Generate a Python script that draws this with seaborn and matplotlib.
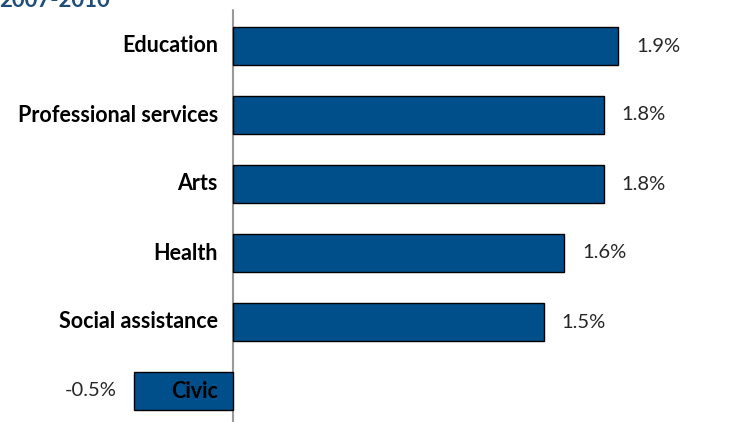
import seaborn as sns
import pandas as pd
import matplotlib.pyplot as plt

# Data
categories = ['Education', 'Professional services', 'Arts', 'Health', 'Social assistance', 'Civic']
growth = [1.86, 1.79, 1.79, 1.60, 1.50, -0.48]
value_labels = ['1.9%', '1.8%', '1.8%', '1.6%', '1.5%', '-0.5%']
title = '2007-2010'

df = pd.DataFrame({'Sector': categories, 'Growth': growth})

sns.set_style('white')
plt.rcParams['font.family'] = ['Lato', 'DejaVu Sans']

fig = plt.figure(figsize=(7.34, 4.22), dpi=100)
ax = fig.add_axes([0, 0, 1, 1])

sns.barplot(data=df, x='Growth', y='Sector', orient='h', color='#004F8A',
            saturation=1, edgecolor='black', linewidth=1, width=0.55, ax=ax)

# pixel scale ~207 px per percentage point, zero line at x=233
ax.set_xlim(-233 / 207, (734 - 233) / 207)
ax.set_ylim((422 - 46) / 69, -46 / 69)
ax.axvline(0, ymin=0, ymax=1 - 10 / 422, color='#999999', lw=1.5, zorder=0)

for i, (cat, val, lab) in enumerate(zip(categories, growth, value_labels)):
    ax.text(-15 / 207, i, cat, ha='right', va='center', fontsize=15.5,
            fontweight='bold', color='black')
    if val >= 0:
        ax.text(val + 18 / 207, i, lab, ha='left', va='center', fontsize=14.5)
    else:
        ax.text(val - 17 / 207, i, lab, ha='right', va='center', fontsize=14.5)

for s in ax.spines.values():
    s.set_visible(False)
ax.set_xticks([])
ax.set_yticks([])
ax.set_xlabel('')
ax.set_ylabel('')

fig.text(110 / 734, 1 - 7 / 422, title, ha='right', va='baseline',
         fontsize=16, fontweight='bold', color='#1F4E79')

fig.savefig('out.png', dpi=100)
